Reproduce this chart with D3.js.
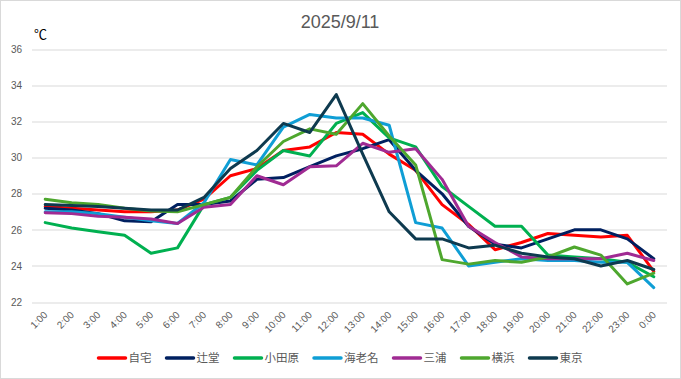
<!DOCTYPE html>
<html>
<head>
<meta charset="utf-8">
<script src="https://cdn.jsdelivr.net/npm/d3@7"></script>
<style>
  body { margin: 0; background: #fff; }
  text { font-family: "Liberation Sans", Arial, "Noto Sans CJK JP", sans-serif; }
  .axis text { fill: #595959; font-size: 10px; }
  .legend text { fill: #595959; font-size: 11.5px; font-family: "Noto Sans CJK JP", sans-serif; }
</style>
</head>
<body>
<svg id="chart"></svg>
<script>
// hourly readings, 2025/9/11
const hours = ["1:00","2:00","3:00","4:00","5:00","6:00","7:00","8:00","9:00","10:00","11:00","12:00",
  "13:00","14:00","15:00","16:00","17:00","18:00","19:00","20:00","21:00","22:00","23:00","0:00"];
const yTicks = [22, 24, 26, 28, 30, 32, 34, 36];

const jitaku   = [27.3,27.2,27.1,27.0,27.0,27.1,27.7,29.0,29.4,30.4,30.6,31.4,31.3,30.2,29.3,27.4,26.3,24.9,25.3,25.8,25.7,25.6,25.7,23.7];
const tsujido  = [27.2,27.1,26.9,26.5,26.45,27.4,27.4,27.6,28.8,28.9,29.5,30.1,30.5,31.0,29.3,28.0,26.2,25.2,25.0,25.5,26.0,26.0,25.5,24.4];
const odawara  = [26.4,26.1,25.9,25.7,24.7,25.0,27.4,27.8,29.3,30.4,30.1,31.9,32.5,31.1,30.6,28.4,27.3,26.2,26.2,24.6,24.5,24.4,24.2,23.4];
const ebina    = [27.0,27.0,26.9,26.7,26.5,26.35,27.5,29.9,29.6,31.7,32.4,32.2,32.2,31.8,26.4,26.1,24.0,24.2,24.4,24.3,24.3,24.2,24.2,22.8];
const miura    = [26.95,26.9,26.75,26.7,26.6,26.35,27.25,27.4,29.0,28.5,29.5,29.55,30.8,30.3,30.5,28.8,26.2,25.3,24.5,24.4,24.4,24.4,24.7,24.3];
const yokohama = [27.7,27.5,27.4,27.2,27.05,27.0,27.4,27.8,29.5,30.9,31.6,31.3,33.0,31.2,29.6,24.35,24.1,24.3,24.2,24.5,25.05,24.6,23.0,23.6];
const tokyo    = [27.4,27.35,27.3,27.2,27.1,27.1,27.8,29.4,30.4,31.9,31.4,33.5,30.2,27.0,25.5,25.5,25.0,25.15,24.7,24.5,24.4,24.0,24.3,23.8];

const seriesNames = ["自宅","辻堂","小田原","海老名","三浦","横浜","東京"];
const seriesValues = [jitaku, tsujido, odawara, ebina, miura, yokohama, tokyo];
const seriesColors = ["#FF0000","#002060","#00B050","#0F9ED5","#A02B93","#4EA72E","#0E3A4F"];

class LineChart {
  constructor(_config) {
    this.config = {
      parentElement: _config.parentElement,
      containerWidth: _config.containerWidth || 681,
      containerHeight: _config.containerHeight || 379,
      margin: _config.margin || { top: 49.5, right: 14, bottom: 77, left: 32 },
    };
    this.data = seriesNames.map((name, i) => ({
      name: name,
      color: seriesColors[i],
      values: seriesValues[i].map((v, j) => ({ hour: hours[j], value: v })),
    }));
    this.initVis();
  }

  initVis() {
    let vis = this;

    vis.width = vis.config.containerWidth - vis.config.margin.left - vis.config.margin.right;
    vis.height = vis.config.containerHeight - vis.config.margin.top - vis.config.margin.bottom;

    vis.svg = d3.select(vis.config.parentElement)
      .attr("width", vis.config.containerWidth)
      .attr("height", vis.config.containerHeight);

    // outer frame
    vis.svg.append("rect")
      .attr("x", 0.5).attr("y", 0.5)
      .attr("width", vis.config.containerWidth - 1)
      .attr("height", vis.config.containerHeight - 1)
      .attr("fill", "#fff")
      .attr("stroke", "#D9D9D9");

    vis.chart = vis.svg.append("g")
      .attr("transform", `translate(${vis.config.margin.left},${vis.config.margin.top})`);

    vis.xScale = d3.scalePoint().domain(hours).range([0, vis.width]).padding(0.5);
    vis.yScale = d3.scaleLinear().domain([22, 36]).range([vis.height, 0]);

    vis.svg.append("text")
      .attr("x", 340).attr("y", 28)
      .attr("text-anchor", "middle")
      .attr("fill", "#595959")
      .style("font-size", "18px")
      .text("2025/9/11");

    vis.svg.append("text")
      .attr("x", 34).attr("y", 39)
      .attr("fill", "#000")
      .style("font-size", "13px")
      .text("℃");

    vis.renderVis();
  }

  renderVis() {
    let vis = this;

    // gridlines
    vis.chart.append("g")
      .selectAll("line")
      .data(yTicks)
      .join("line")
      .attr("x1", 0).attr("x2", vis.width)
      .attr("y1", d => Math.round(vis.yScale(d)) + 0.5)
      .attr("y2", d => Math.round(vis.yScale(d)) + 0.5)
      .attr("stroke", "#D9D9D9");

    const yAxis = d3.axisLeft(vis.yScale).tickValues(yTicks).tickSize(0).tickPadding(10);
    const yAxisG = vis.chart.append("g").attr("class", "axis").call(yAxis);
    yAxisG.select(".domain").remove();

    const xAxis = d3.axisBottom(vis.xScale).tickSize(0).tickPadding(0);
    const xAxisG = vis.chart.append("g")
      .attr("class", "axis")
      .attr("transform", `translate(0,${vis.height + 11})`)
      .call(xAxis);
    xAxisG.select(".domain").remove();
    xAxisG.selectAll("text")
      .attr("y", 0).attr("dy", "0.35em").attr("x", 0)
      .attr("text-anchor", "end")
      .attr("transform", "rotate(-45)");

    const line = d3.line()
      .x(d => vis.xScale(d.hour))
      .y(d => vis.yScale(d.value));

    vis.chart.append("g")
      .selectAll("path")
      .data(vis.data)
      .join("path")
      .attr("d", d => line(d.values))
      .attr("fill", "none")
      .attr("stroke", d => d.color)
      .attr("stroke-width", 3)
      .attr("stroke-linejoin", "round")
      .attr("stroke-linecap", "round");

    // legend, centred under the chart
    const legend = vis.svg.append("g").attr("class", "legend");
    const items = legend.selectAll("g")
      .data(vis.data)
      .join("g");
    items.append("line")
      .attr("x1", 0).attr("x2", 27)
      .attr("y1", 0).attr("y2", 0)
      .attr("stroke", d => d.color)
      .attr("stroke-width", 3.5)
      .attr("stroke-linecap", "round");
    items.append("text")
      .attr("x", 30).attr("dy", "0.36em")
      .text(d => d.name);

    let offset = 0;
    const widths = [];
    items.each(function () {
      const w = 30 + d3.select(this).select("text").node().getComputedTextLength();
      widths.push(w);
    });
    const total = d3.sum(widths) + 15 * (widths.length - 1);
    let start = vis.config.containerWidth / 2 - total / 2;
    items.attr("transform", (d, i) => {
      const x = start + offset;
      offset += widths[i] + 15;
      return `translate(${x},358)`;
    });
  }
}

new LineChart({ parentElement: "#chart" });
</script>
</body>
</html>
